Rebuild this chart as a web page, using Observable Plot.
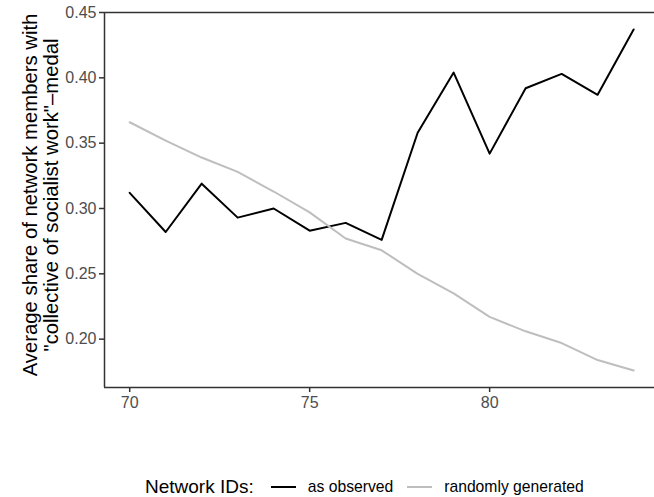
<!DOCTYPE html>
<html>
<head>
<meta charset="utf-8">
<script src="https://cdn.jsdelivr.net/npm/d3@7"></script>
<script src="https://cdn.jsdelivr.net/npm/@observablehq/plot@0.6"></script>
<style>
  body { margin: 0; background: #fff; font-family: "Liberation Sans", Arial, sans-serif; }
  #wrap { position: relative; width: 654px; height: 497px; overflow: hidden; }
  #legend { position: absolute; left: 145px; top: 473px; height: 28px; display: flex; align-items: center; white-space: nowrap; color: #000; }
  #legend .title { font-size: 19px; margin-right: 17px; }
  #legend .key { display: inline-block; width: 25px; height: 2px; margin-right: 12px; }
  #legend .lab { font-size: 15.7px; margin-right: 14px; }
</style>
</head>
<body>
<div id="wrap">
  <div id="chart"></div>
  <div id="legend"></div>
</div>
<script>
const years = [70, 71, 72, 73, 74, 75, 76, 77, 78, 79, 80, 81, 82, 83, 84];
const observed = [0.312, 0.282, 0.319, 0.293, 0.300, 0.283, 0.289, 0.276, 0.358, 0.404, 0.342, 0.392, 0.403, 0.387, 0.437];
const randomGen = [0.366, 0.352, 0.339, 0.328, 0.313, 0.297, 0.277, 0.268, 0.250, 0.235, 0.217, 0.206, 0.197, 0.184, 0.176];
const seriesNames = ["as observed", "randomly generated"];
const seriesColors = ["#000000", "#bebebe"];
const yTicks = [0.20, 0.25, 0.30, 0.35, 0.40, 0.45];
const xTicks = [70, 75, 80];
const xDomain = [69.3, 84.58];
const yDomain = [0.163, 0.450];
const yTitle = "Average share of network members with\n\"collective of socialist work\"\u2013medal";
const legendTitle = "Network IDs:";

const data = [];
years.forEach((yr, i) => {
  data.push({year: yr, value: observed[i], series: seriesNames[0]});
  data.push({year: yr, value: randomGen[i], series: seriesNames[1]});
});

const chart = Plot.plot({
  width: 654,
  height: 470,
  marginLeft: 104,
  marginRight: 0,
  marginTop: 12,
  marginBottom: 83,
  style: {fontFamily: "Liberation Sans, Arial, sans-serif", fontSize: "16px", color: "#4d4d4d", background: "#fff"},
  x: {domain: xDomain, ticks: xTicks, tickSize: 5, tickPadding: 4, label: null},
  y: {domain: yDomain, ticks: yTicks, tickFormat: d3.format(".2f"), tickSize: 5, tickPadding: 3, label: null},
  color: {domain: seriesNames, range: seriesColors},
  marks: [
    Plot.line(data, {x: "year", y: "value", z: "series", stroke: "series", strokeWidth: 2, sort: "year"}),
    Plot.ruleX([xDomain[0]], {stroke: "#333", strokeWidth: 1.5}),
    Plot.ruleY([yDomain[0]], {stroke: "#333", strokeWidth: 1.5}),
    Plot.ruleY([yDomain[1]], {stroke: "#333", strokeWidth: 1.5}),
    Plot.text([yTitle], {frameAnchor: "left", textAnchor: "middle", lineAnchor: "middle", rotate: -90, dx: -64, dy: -5, fontSize: 20.3, fill: "#000", lineHeight: 1.05})
  ]
});
chart.querySelectorAll('[aria-label="x-axis tick"] path, [aria-label="y-axis tick"] path').forEach(p => { p.setAttribute("stroke", "#333"); p.setAttribute("stroke-width", "1.5"); });
document.getElementById("chart").appendChild(chart);

const legend = document.getElementById("legend");
const t = document.createElement("span"); t.className = "title"; t.textContent = legendTitle; legend.appendChild(t);
seriesNames.forEach((name, i) => {
  const k = document.createElement("span"); k.className = "key"; k.style.background = seriesColors[i]; legend.appendChild(k);
  const l = document.createElement("span"); l.className = "lab"; l.textContent = name; legend.appendChild(l);
});
</script>
</body>
</html>
